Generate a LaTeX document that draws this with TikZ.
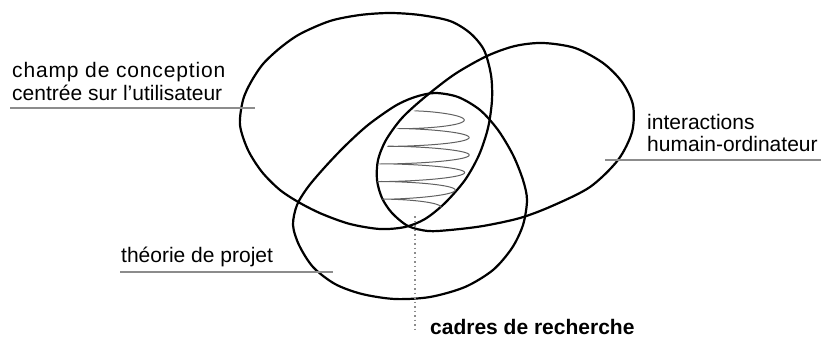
\documentclass[tikz,border=0pt]{standalone}
\usepackage{fontspec}
\setmainfont{Liberation Sans}
\begin{document}
\begin{tikzpicture}[x=1pt,y=-1pt,
  setshape/.style={draw=black, line width=2.2pt, line join=round},
  scrib/.style={draw=black!62, line width=1pt},
  lbl/.style={inner sep=0pt, anchor=base west, font=\fontsize{21}{24}\selectfont},
  lblbold/.style={inner sep=0pt, anchor=base west, font=\fontsize{21}{24}\selectfont\bfseries},
  rulestyle/.style={draw=black!45, line width=1.2pt},
  leader/.style={draw=black!45, line width=1.3pt, dash pattern=on 1.5pt off 3pt}]
\useasboundingbox (0,0) rectangle (821,339);

% champ de conception (E1)
\draw[setshape] plot[smooth cycle] coordinates {(240,125) (243,100) (251,82) (263,64) (280,48) (300,34) (330,21) (360,15) (390,13) (420,15) (450,21) (470,33) (484,50) (491,75) (492,100) (488,128) (479,155) (465,180) (445,203) (425,219) (405,227) (380,229) (350,224) (322,214) (300,203) (280,190) (262,172) (248,150)};

% interactions (E2)
\draw[setshape] plot[smooth cycle] coordinates {(377,180) (378,160) (386,140) (402,118) (425,97) (455,74) (487,56) (515,46) (543,43) (575,48) (603,63) (622,82) (633,105) (632,132) (618,160) (590,187) (552,206) (520,218) (483,226) (450,230) (428,231) (408,226) (392,213) (382,198)};

% theorie de projet (E3)
\draw[setshape] plot[smooth cycle] coordinates {(435,93) (458,97) (480,110) (498,130) (513,155) (523,180) (527,200) (523,225) (512,248) (493,270) (465,287) (430,297) (395,299) (362,294) (335,284) (313,267) (299,245) (293,225) (297,205) (308,187) (325,167) (345,146) (368,125) (395,106) (415,97)};

% scribble
\draw[scrib] plot[domain=0:1, samples=500, smooth] ({438-25*\x + (22+6*\x+72*\x*(1-\x))*cos(180+1980*\x)}, {111+97*\x+3*sin(180+1980*\x)});

% labels
\node[lbl] (champA) at (12,78) {\addfontfeatures{LetterSpace=4}champ de conception};
\node[lbl] (champB) at (12,101) {centrée sur l’utilisateur};
\coordinate (champL) at (10,108);
\coordinate (champR) at (255,108);
\draw[rulestyle] (champL) -- (champR);

\node[lbl] (interA) at (647,130) {interactions};
\node[lbl] (interB) at (647,152) {humain-ordinateur};
\coordinate (interL) at (605,160);
\coordinate (interR) at (821,160);
\draw[rulestyle] (interL) -- (interR);

\node[lbl] (theo) at (121,262) {théorie de projet};
\coordinate (theoL) at (120,272);
\coordinate (theoR) at (333,272);
\draw[rulestyle] (theoL) -- (theoR);

\node[lblbold] (cadres) at (430,334) {cadres de recherche};
\coordinate (leadT) at (415,216);
\coordinate (leadB) at (415,333);
\draw[leader] (leadT) -- (leadB);
\end{tikzpicture}
\end{document}
